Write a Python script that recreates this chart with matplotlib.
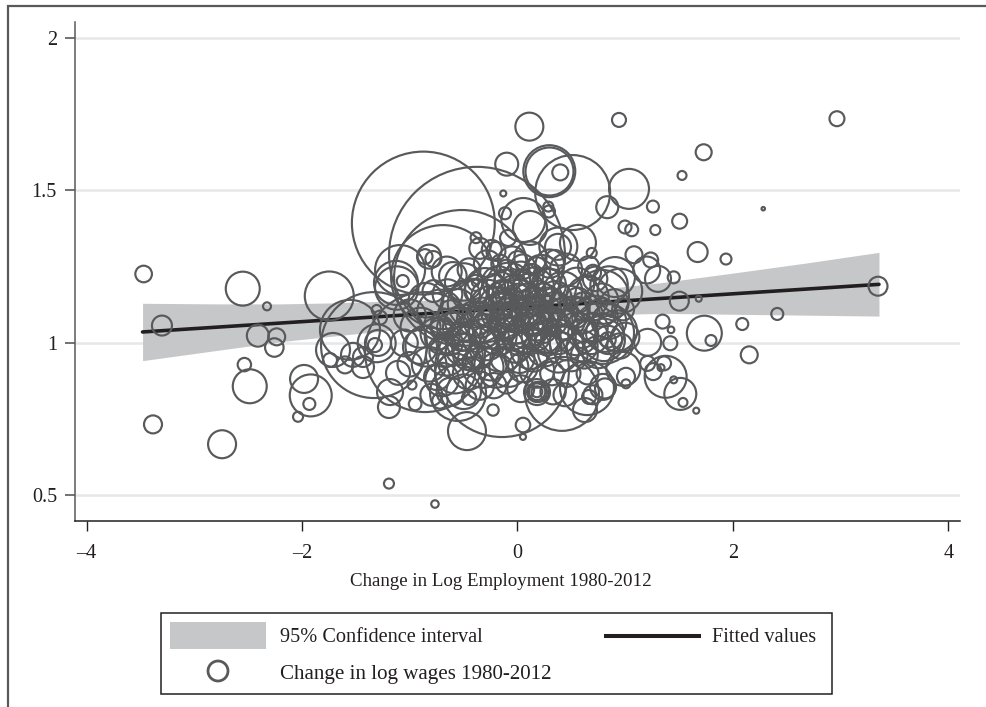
import numpy as np
import matplotlib
matplotlib.use("Agg")
import matplotlib.pyplot as plt
from matplotlib.patches import Rectangle

plt.rcParams['font.family'] = ['Liberation Serif', 'DejaVu Serif']

# isolated metros
out_emp = [-3.47, -3.30, -2.55, -2.325, -2.41, -2.235, -2.257, -2.535, -2.485, -1.981,
           -1.919, -1.932, -2.037, -3.383, -2.742, -1.747, 2.965, 1.728, 1.527, 2.281,
           1.505, 1.672, 1.935, 1.45, 1.304, 1.502, 1.682, 3.346, 2.411, 2.086,
           1.734, 1.796, 2.151, 1.347, 1.425, 1.418, 1.208, 0.982, 1.007, 1.007,
           1.208, 1.26, 1.36, 1.332, 1.375, 1.45, 1.511, 1.536, 1.659, 0.812]
out_wage = [1.226, 1.057, 1.178, 1.12, 1.024, 1.02, 0.985, 0.929, 0.858, 0.882,
            0.828, 0.8, 0.758, 0.733, 0.668, 1.154, 1.735, 1.625, 1.549, 1.44,
            1.399, 1.298, 1.275, 1.215, 1.21, 1.137, 1.145, 1.186, 1.095, 1.062,
            1.032, 1.008, 0.961, 1.07, 1.043, 0.999, 1.002, 0.915, 0.889, 0.866,
            0.933, 0.906, 0.933, 0.919, 0.889, 0.879, 0.833, 0.805, 0.778, 0.851]
out_weight = [69, 100, 289, 16, 121, 72, 86, 45, 289, 196,
              441, 36, 25, 81, 196, 600, 56, 64, 20, 3,
              56, 100, 30, 36, 169, 90, 9, 90, 36, 36,
              306, 30, 72, 49, 11, 49, 182, 289, 81, 20,
              56, 72, 49, 12, 441, 12, 256, 20, 9, 100]

# upper part and the big metros
top_emp = [0.11, 0.942, -0.1, 0.295, 0.297, 0.397, 0.512, 1.035, 0.833, 1.257,
           0.998, 1.06, 1.279, -0.132, -0.116, 0.054, 0.286, 0.292, 0.116, 0.379,
           0.376, 0.561, -0.088, 1.081, 1.236, 0.689, 1.199, 0.905, 0.348, 0.701,
           -0.874, -0.376, -0.515, -0.691, -1.332, -0.858, -0.144, 0.413, 0.645, 0.626,
           0.664, 0.794, 0.794, 0.812, 0.784, 0.051, 0.051, -0.227, 0.181, 0.181,
           -0.469, -1.193, -0.766, -0.385, -0.821, -0.781, -0.858, -1.09, -0.239, -0.657,
           -1.128, -1.121, -1.065, -1.307, -1.276, -1.307, -1.295, -1.323, -1.527, -1.74,
           -1.434, -1.434, -1.601, -1.712, -1.109, -1.183, -1.193, -0.979, -0.905, -0.747,
           -0.552, -1.555]
top_wage = [1.709, 1.731, 1.586, 1.563, 1.562, 1.559, 1.493, 1.505, 1.445, 1.447,
            1.38, 1.371, 1.37, 1.49, 1.425, 1.403, 1.447, 1.431, 1.377, 1.316,
            1.315, 1.328, 1.344, 1.289, 1.272, 1.295, 1.239, 1.216, 1.272, 1.23,
            1.393, 1.289, 1.213, 1.216, 0.993, 0.97, 0.911, 0.833, 0.852, 0.78,
            0.823, 0.856, 1.033, 1.033, 1.151, 0.731, 0.692, 0.78, 0.839, 0.839,
            0.711, 0.539, 0.472, 1.345, 1.283, 1.275, 1.283, 1.239, 1.305, 1.234,
            1.197, 1.18, 1.203, 1.108, 1.083, 0.999, 1.0, 0.993, 0.961, 0.944,
            0.921, 0.954, 0.928, 0.977, 0.902, 0.839, 0.79, 0.862, 0.987, 0.888,
            0.836, 1.043]
top_weight = [196, 49, 132, 676, 576, 64, 1406, 400, 121, 36,
              42, 42, 25, 9, 36, 484, 25, 36, 289, 361,
              169, 324, 64, 72, 56, 25, 182, 400, 100, 64,
              5112, 7744, 4624, 2704, 2809, 3600, 4489, 1369, 729, 144,
              49, 169, 961, 361, 729, 53, 9, 32, 169, 100,
              361, 25, 14, 30, 144, 64, 56, 625, 100, 225,
              484, 471, 36, 25, 49, 361, 169, 49, 144, 49,
              121, 100, 72, 289, 144, 169, 121, 20, 289, 169,
              784, 900]

# the dense middle, best guess since the rings overlap
mid_emp = [-0.35, -0.2, -0.05, 0.05, 0.12, -0.28, -0.45, 0.3, -0.6, -0.5,
           0.22, 0.45, 0.66, 0.72, 0.85, 0.95, -0.39, -0.39, -0.78, -0.85,
           -0.65, -0.3, -0.18, -0.08, 0.03, 0.15, 0.3, 0.42, 0.55, 0.65,
           0.78, 0.9, 0.98, -1.0, -0.9, -0.72, -0.55, -0.42, -0.25, -0.12,
           0.0, 0.1, 0.22, 0.35, 0.48, 0.6, 0.72, 0.85, 0.92, 1.0,
           -1.05, -0.85, -0.7, -0.6, -0.48, -0.35, -0.22, -0.1, 0.05, 0.18,
           0.3, 0.42, 0.55, 0.68, 0.8, 0.84, 0.84, 0.95, -1.0, -0.82,
           -0.66, -0.52, -0.4, -0.28, -0.15, -0.02, 0.12, 0.25, 0.38, 0.5,
           0.62, 0.75, -0.7, -0.58, -0.45, -0.32, -0.2, -0.08, 0.05, 0.18,
           0.32, 0.46, -0.62, -0.5, -0.35, -0.22, -0.1, 0.03, 0.2, 0.33,
           0.44, -0.72, -0.8, -0.95, -0.45, 0.18, 0.18, 0.65, 0.7, -0.1,
           0.12, -0.32, 0.25, 0.62, -0.62]
mid_wage = [1.31, 1.30, 1.27, 1.25, 1.28, 1.26, 1.24, 1.26, 1.22, 1.20,
            1.23, 1.24, 1.25, 1.21, 1.19, 1.17, 1.197, 1.197, 1.17, 1.14,
            1.16, 1.18, 1.2, 1.19, 1.21, 1.18, 1.19, 1.17, 1.19, 1.15,
            1.14, 1.13, 1.11, 1.09, 1.05, 1.1, 1.12, 1.13, 1.12, 1.14,
            1.12, 1.14, 1.12, 1.11, 1.12, 1.09, 1.08, 1.07, 1.04, 1.02,
            1.0, 0.99, 1.02, 1.05, 1.05, 1.07, 1.05, 1.07, 1.05, 1.06,
            1.04, 1.06, 1.03, 1.02, 1.01, 1.01, 1.01, 0.99, 0.93, 0.93,
            0.96, 0.98, 0.99, 1.0, 0.98, 0.99, 0.98, 0.98, 0.97, 0.96,
            0.96, 0.97, 0.88, 0.9, 0.9, 0.92, 0.91, 0.92, 0.92, 0.91,
            0.9, 0.9, 0.84, 0.84, 0.86, 0.86, 0.87, 0.85, 0.84, 0.84,
            0.83, 0.81, 0.83, 0.8, 0.82, 0.84, 0.84, 0.9, 0.83, 1.1,
            1.09, 1.03, 1.02, 1.12, 1.0]
mid_weight = [110, 90, 200, 150, 260, 180, 130, 200, 190, 350,
              320, 260, 110, 150, 350, 500, 64, 12, 120, 300,
              220, 400, 250, 500, 300, 420, 260, 380, 300, 450,
              280, 200, 120, 260, 400, 520, 300, 600, 420, 350,
              700, 280, 520, 300, 420, 320, 520, 300, 420, 200,
              180, 420, 300, 250, 520, 260, 450, 300, 620, 250,
              500, 220, 460, 300, 450, 200, 60, 160, 150, 300,
              420, 250, 500, 300, 520, 280, 400, 300, 420, 260,
              180, 260, 280, 400, 260, 420, 300, 380, 220, 300,
              140, 180, 200, 300, 200, 160, 120, 180, 100, 160,
              130, 60, 120, 40, 50, 70, 30, 120, 90, 200,
              350, 220, 260, 200, 150]

# core of the cloud, almost solid in the picture
core_emp = [-0.48, -0.4, -0.38, -0.33, -0.3, -0.27, -0.24, -0.22, -0.2, -0.18,
            -0.15, -0.14, -0.12, -0.1, -0.08, -0.06, -0.05, -0.03, -0.02, 0.0,
            0.02, 0.03, 0.05, 0.06, 0.08, 0.09, 0.1, 0.12, 0.13, 0.15,
            0.17, 0.18, 0.2, 0.23, 0.25, 0.27, 0.28, 0.32, 0.35, 0.38,
            -0.55, -0.52, -0.46, -0.35, -0.25, -0.12, 0.02, 0.15, 0.28, 0.42,
            0.5, 0.56, 0.6, -0.62, -0.7, -0.1, 0.0, -0.16, 0.18, -0.42,
            -0.75, -0.68, -0.58, -0.66, -0.5, 0.46, 0.52, 0.6, 0.7, 0.78]
core_wage = [1.16, 1.08, 1.17, 1.1, 1.04, 1.15, 1.08, 1.19, 1.13, 1.02,
             1.1, 1.16, 1.05, 1.2, 1.12, 1.03, 1.09, 1.17, 1.06, 1.15,
             1.01, 1.09, 1.19, 1.13, 1.04, 1.1, 1.17, 1.07, 1.22, 1.12,
             1.02, 1.08, 1.16, 1.05, 1.1, 1.2, 1.14, 1.07, 1.15, 1.02,
             1.07, 1.02, 0.96, 0.96, 0.93, 0.95, 0.95, 0.95, 1.0, 1.1,
             1.07, 1.14, 1.03, 1.1, 1.05, 1.24, 1.27, 1.26, 1.25, 0.94,
             1.03, 0.97, 0.94, 1.06, 1.0, 1.0, 1.1, 0.99, 1.05, 1.1]
core_weight = [200, 300, 150, 220, 260, 300, 180, 120, 260, 340,
               400, 200, 180, 160, 320, 280, 200, 260, 360, 180,
               240, 300, 220, 160, 320, 240, 300, 180, 140, 360,
               200, 280, 180, 240, 300, 200, 160, 220, 260, 300,
               180, 200, 220, 180, 260, 200, 220, 180, 160, 200,
               180, 160, 200, 150, 130, 100, 90, 80, 90, 100,
               260, 220, 300, 240, 280, 300, 260, 240, 220, 200]

# fit and confidence band
band_x = [-3.48, -2.8, -2.2, -1.75, -1.2, -0.6, 0, 0.6, 1.32, 2.0, 2.7, 3.355]
band_up = [1.13, 1.128, 1.128, 1.131, 1.137, 1.142, 1.151, 1.17, 1.197, 1.229, 1.263, 1.297]
band_lo = [0.942, 0.975, 1.004, 1.021, 1.041, 1.062, 1.081, 1.09, 1.097, 1.094, 1.091, 1.088]
fit_x = [-3.48, 3.355]
fit_y = [1.036, 1.192]

xticks = [-4, -2, 0, 2, 4]
xticklabels = ['–4', '–2', '0', '2', '4']
yticks = [0.5, 1, 1.5, 2]
yticklabels = ['0.5', '1', '1.5', '2']

GREY = '#58595b'
DARK = '#231f20'
BAND = '#c6c7c9'
W, H = 987, 707

fig = plt.figure(figsize=(9.87, 7.07), dpi=100)
ax = fig.add_axes([75/W, 1-520.5/H, 885/W, 498.5/H])

x = np.array(out_emp + top_emp + mid_emp + core_emp)
y = np.array(out_wage + top_wage + mid_wage + core_wage)
w = np.array(out_weight + top_weight + mid_weight + core_weight)

ax.fill_between(band_x, band_lo, band_up, color=BAND, lw=0, zorder=2)
ax.plot(fit_x, fit_y, color=DARK, lw=2.6, solid_capstyle='round', zorder=3)
ax.scatter(x, y, s=2.07*w, facecolors='none', edgecolors=GREY, linewidths=1.55, zorder=4)

ax.set_xlim(-4.107, 4.107)
ax.set_ylim(0.418, 2.052)
ax.set_xticks(xticks)
ax.set_xticklabels(xticklabels, fontsize=14.5, color=DARK)
ax.set_yticks(yticks)
ax.set_yticklabels(yticklabels, fontsize=14.5, color=DARK)
ax.tick_params(axis='x', length=7, width=1, color=DARK, pad=10)
ax.tick_params(axis='y', length=7, width=1.2, color=GREY, pad=6)
ax.grid(axis='y', color='#e6e7e8', lw=1.8, zorder=1)
ax.set_axisbelow(True)
ax.spines['top'].set_visible(False)
ax.spines['right'].set_visible(False)
ax.spines['left'].set_color(GREY)
ax.spines['left'].set_linewidth(1.1)
ax.spines['bottom'].set_color(DARK)
ax.spines['bottom'].set_linewidth(1.1)

# overlay in picture pixels for outer frame, x title and legend
ov = fig.add_axes([0, 0, 1, 1], zorder=5)
ov.set_xlim(0, W)
ov.set_ylim(H, 0)
ov.axis('off')
ov.plot([8, 8, W], [H, 5.5, 5.5], color=GREY, lw=1.6, solid_joinstyle='miter')
ov.text(501, 582, 'Change in Log Employment 1980-2012', fontsize=13.6, color=DARK, ha='center', va='center')
ov.add_patch(Rectangle((160.5, 612.5), 671, 81.5, fc='white', ec=DARK, lw=1.1))
ov.add_patch(Rectangle((170, 622), 96, 27, fc=BAND, ec='none'))
ov.plot([606, 699], [636, 636], color=DARK, lw=2.9)
ov.scatter([218], [671], s=207, facecolors='none', edgecolors=GREY, linewidths=2)
ov.text(280, 638, '95% Confidence interval', fontsize=14.6, color=DARK, va='center')
ov.text(280, 675, 'Change in log wages 1980-2012', fontsize=15.1, color=DARK, va='center')
ov.text(712, 638, 'Fitted values', fontsize=14.6, color=DARK, va='center')

fig.savefig('out.png', dpi=100)
